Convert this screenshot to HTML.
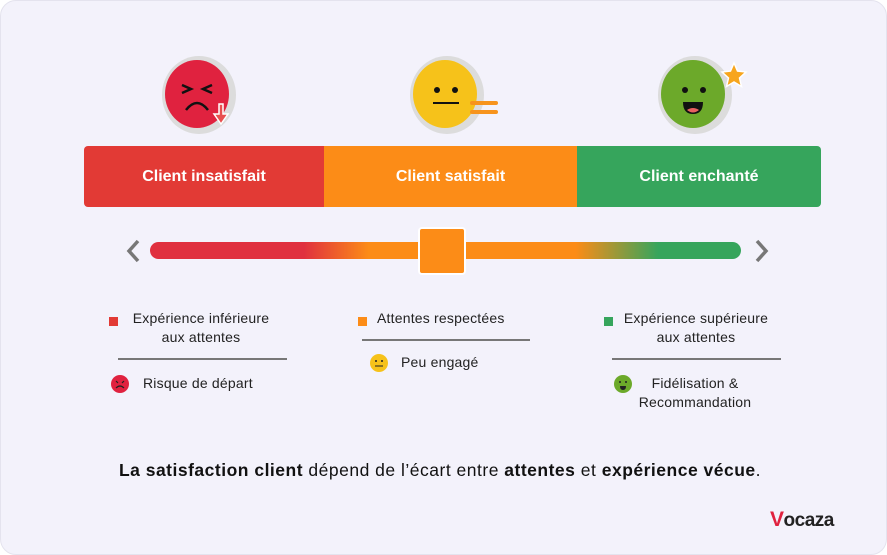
<!DOCTYPE html>
<html><head><meta charset="utf-8"><style>
body{margin:0;width:887px;height:555px;background:#fff;font-family:"Liberation Sans",sans-serif;overflow:hidden}
.card{position:absolute;left:0;top:0;width:887px;height:555px;box-sizing:border-box;background:#f3f2fb;border:1px solid #e4e3ee;border-radius:16px}
.a{position:absolute}
.bar{position:absolute;top:146px;height:61px;color:#fff;font-weight:bold;font-size:16px;display:flex;align-items:center;justify-content:center}
.t{position:absolute;font-size:14px;color:#222;text-align:center;line-height:19px;letter-spacing:0.2px}
.sq{position:absolute;width:9px;height:9px}
.ln{position:absolute;height:2px;background:#777}
</style></head><body><div class="card"></div>
<svg class="a" style="left:0;top:0" width="887" height="140">
 <ellipse cx="199" cy="95" rx="37" ry="39" fill="#dcdcdc"/><ellipse cx="197" cy="94" rx="32" ry="34" fill="#e0223f"/>
 <path d="M182 85 l9 4 -9 4 M212 85 l-9 4 9 4" stroke="#111" stroke-width="2.5" fill="none"/>
 <path d="M186 110 q11 -14 22 0" stroke="#111" stroke-width="2.5" fill="none"/>
 <path d="M223 104 v10 h5 l-7 10 -7 -10 h5 v-10z" fill="#e85050" stroke="#fff" stroke-width="1.5"/>
 <ellipse cx="447" cy="95" rx="37" ry="39" fill="#dcdcdc"/><ellipse cx="445" cy="94" rx="32" ry="34" fill="#f6c21a"/>
 <circle cx="437" cy="90" r="3" fill="#111"/><circle cx="455" cy="90" r="3" fill="#111"/>
 <path d="M433 103 h26" stroke="#111" stroke-width="2"/>
 <path d="M472 103 h24 M472 112 h24" stroke="#f7941d" stroke-width="4" stroke-linecap="round"/>
 <ellipse cx="695" cy="95" rx="37" ry="39" fill="#dcdcdc"/><ellipse cx="693" cy="94" rx="32" ry="34" fill="#6ca92a"/>
 <circle cx="685" cy="90" r="3" fill="#111"/><circle cx="703" cy="90" r="3" fill="#111"/>
 <path d="M683 102 h20 q0 12 -10 12 q-10 0 -10 -12z" fill="#111"/><path d="M687 110 q6 -4 12 0 q-6 5 -12 0z" fill="#e86060"/>
 <path d="M734 63 l3.5 8 8.5 1 -6.5 6 2 8.5 -7.5 -4.5 -7.5 4.5 2 -8.5 -6.5 -6 8.5 -1z" fill="#f7a51d" stroke="#fff" stroke-width="1.5"/>
</svg>
<div class="bar" style="left:84px;width:240px;background:#e23a35;border-radius:4px 0 0 4px">Client insatisfait</div>
<div class="bar" style="left:324px;width:253px;background:#fc8c17">Client satisfait</div>
<div class="bar" style="left:577px;width:244px;background:#36a55c;border-radius:0 4px 4px 0">Client enchanté</div>
<div class="a" style="left:150px;top:242px;width:591px;height:17px;border-radius:9px;background:linear-gradient(90deg,#e0303f 0%,#e0303f 26%,#fc8c17 37%,#fc8c17 72%,#36a55c 86%,#36a55c 100%)"></div>
<div class="a" style="left:418px;top:227px;width:44px;height:44px;background:#fc8c17;border:2px solid #fff;border-radius:4px"></div>
<svg class="a" style="left:120px;top:238px" width="660" height="26"><path d="M18 3 l-9 10 9 10" stroke="#777" stroke-width="3.5" fill="none"/><path d="M637 3 l9 10 -9 10" stroke="#777" stroke-width="3.5" fill="none"/></svg>
<div class="sq" style="left:109px;top:317px;background:#e23a35"></div>
<div class="t" style="left:118px;top:309px;width:166px">Expérience inférieure<br>aux attentes</div>
<div class="ln" style="left:118px;top:358px;width:169px"></div>
<svg class="a" style="left:110px;top:374px" width="20" height="20"><circle cx="10" cy="10" r="9" fill="#e0223f"/><path d="M6 14 q4 -4 8 0" stroke="#222" stroke-width="1.2" fill="none"/><path d="M6 7 l2 2 M14 7 l-2 2" stroke="#222" stroke-width="1.2"/></svg>
<div class="t" style="left:143px;top:374px;text-align:left">Risque de départ</div>
<div class="sq" style="left:358px;top:317px;background:#fc8c17"></div>
<div class="t" style="left:377px;top:309px;text-align:left">Attentes respectées</div>
<div class="ln" style="left:362px;top:339px;width:168px"></div>
<svg class="a" style="left:369px;top:353px" width="20" height="20"><circle cx="10" cy="10" r="9" fill="#f6c21a"/><circle cx="7" cy="8" r="1" fill="#222"/><circle cx="13" cy="8" r="1" fill="#222"/><path d="M6 13 h8" stroke="#222" stroke-width="1"/></svg>
<div class="t" style="left:401px;top:353px;text-align:left">Peu engagé</div>
<div class="sq" style="left:604px;top:317px;background:#36a55c"></div>
<div class="t" style="left:610px;top:309px;width:172px">Expérience supérieure<br>aux attentes</div>
<div class="ln" style="left:612px;top:358px;width:169px"></div>
<svg class="a" style="left:613px;top:374px" width="20" height="20"><circle cx="10" cy="10" r="9" fill="#6ca92a"/><circle cx="7" cy="8" r="1" fill="#222"/><circle cx="13" cy="8" r="1" fill="#222"/><path d="M7 12 h6 q0 4 -3 4 q-3 0 -3 -4z" fill="#222"/></svg>
<div class="t" style="left:620px;top:374px;width:150px">Fidélisation &amp;<br>Recommandation</div>
<div class="t" style="left:40px;top:459px;width:800px;font-size:17.5px;line-height:22px;color:#111;letter-spacing:0.5px"><b>La satisfaction client</b> dépend de l’écart entre <b>attentes</b> et <b>expérience vécue</b>.</div>
<div class="a" style="left:770px;top:508px;font-size:19px;font-weight:bold;color:#222;letter-spacing:-0.5px"><span style="color:#e0223f;font-size:21px">V</span>ocaza</div>
</body></html>
